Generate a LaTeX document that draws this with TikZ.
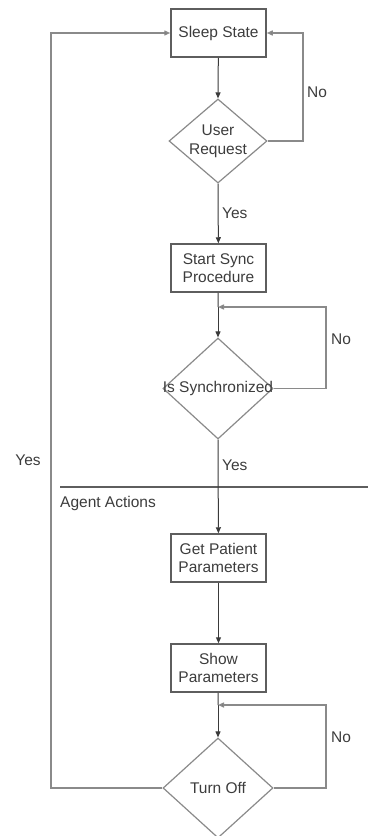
\documentclass[tikz,border=0pt]{standalone}
\usepackage{fontspec}
\setmainfont{Liberation Sans}
\usetikzlibrary{shapes.geometric,arrows.meta}
\definecolor{txt}{HTML}{3C3C3C}
\definecolor{boxline}{HTML}{5E5E5E}
\definecolor{dialine}{HTML}{8A8A8A}
\definecolor{wire}{HTML}{3A3A3A}
\definecolor{loopwire}{HTML}{8A8A8A}
\tikzset{
  lbl/.style={font=\fontsize{15.5}{17}\selectfont, text=txt, inner sep=0pt},
  procbox/.style={draw=boxline, line width=1.5pt, minimum width=95pt, minimum height=48pt,
    inner sep=0pt, align=center, font=\fontsize{15.5}{18}\selectfont, text=txt},
  decision/.style={diamond, draw=dialine, line width=1.2pt, inner sep=0pt, minimum width=#1},
  flow/.style={draw=wire, line width=1pt, -{Triangle[length=6pt,width=5pt]}},
  back/.style={draw=loopwire, line width=1.4pt, -{Triangle[length=6pt,width=5pt,fill=wire]}},
}
\begin{document}
\begin{tikzpicture}[x=1pt,y=-1pt]
\useasboundingbox (0,0) rectangle (368,836);

% main column
\node[procbox] (sleep) at (218.5,33) {Sleep State};
\node[decision=98pt, minimum height=84pt,
      label={[lbl, align=center, font=\fontsize{15.5}{19}\selectfont]center:User\\Request}] (req) at (218,141) {};
\node[procbox] (sync) at (218.5,268) {Start Sync\\Procedure};
\node[decision=110pt, minimum height=101pt,
      label={[lbl]center:Is Synchronized}] (issync) at (218,388.5) {};
\node[procbox] (getp) at (218.5,558) {Get Patient\\Parameters};
\node[procbox] (showp) at (218.5,668) {Show\\Parameters};
\node[decision=110pt, minimum height=100pt,
      label={[lbl]center:Turn Off}] (off) at (218,788) {};

% junction points where the retry loops rejoin
\coordinate (j1) at (218,307);
\coordinate (j2) at (218,705);

% section divider
\coordinate (divL) at (60,487);
\coordinate (divR) at (368,487);
\draw[draw=boxline, line width=1.6pt] (divL) -- (divR);
\node[lbl, anchor=west] (agent) at (60,503) {Agent Actions};

% forward flow
\draw[flow] (sleep) -- (req.north);
\draw[flow] (req.south) -- (sync);
\draw[draw=wire, line width=1pt] (sync) -- (j1);
\draw[flow] (j1) -- (issync.north);
\draw[flow] (issync.south) -- (getp);
\draw[flow] (getp) -- (showp);
\draw[draw=wire, line width=1pt] (showp) -- (j2);
\draw[flow] (j2) -- (off.north);

% retry loops
\draw[back] (req.east) -- (303,141) |- (sleep.east);
\draw[back] (issync.east) -- (326,388.5) |- (j1);
\draw[back] (off.east) -- (326,788) |- (j2);
\draw[back] (off.west) -- (51,788) |- (sleep.west);

% branch labels
\node[lbl, anchor=west] (no1) at (307,92) {No};
\node[lbl, anchor=west] (yes1) at (222,213) {Yes};
\node[lbl, anchor=west] (no2) at (331,339) {No};
\node[lbl, anchor=west] (yes2) at (222,465) {Yes};
\node[lbl, anchor=west] (no3) at (331,737) {No};
\node[lbl] (yes3) at (28,460) {Yes};
\end{tikzpicture}
\end{document}
